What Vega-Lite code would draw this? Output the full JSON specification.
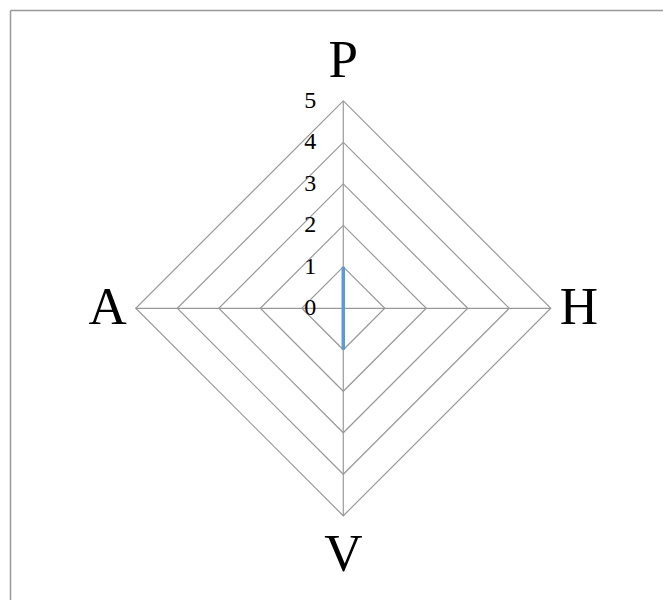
{
  "$schema": "https://vega.github.io/schema/vega-lite/v6.json",
  "width": 653,
  "height": 590,
  "autosize": {"type": "none"},
  "padding": {"left": 10, "top": 10, "right": 0, "bottom": 0},
  "background": "white",
  "config": {"view": {"stroke": null}},
  "datasets": {
    "grid": [
      {"level": 1, "i": 0, "x": 0, "y": 1}, {"level": 1, "i": 1, "x": 1, "y": 0}, {"level": 1, "i": 2, "x": 0, "y": -1}, {"level": 1, "i": 3, "x": -1, "y": 0}, {"level": 1, "i": 4, "x": 0, "y": 1},
      {"level": 2, "i": 0, "x": 0, "y": 2}, {"level": 2, "i": 1, "x": 2, "y": 0}, {"level": 2, "i": 2, "x": 0, "y": -2}, {"level": 2, "i": 3, "x": -2, "y": 0}, {"level": 2, "i": 4, "x": 0, "y": 2},
      {"level": 3, "i": 0, "x": 0, "y": 3}, {"level": 3, "i": 1, "x": 3, "y": 0}, {"level": 3, "i": 2, "x": 0, "y": -3}, {"level": 3, "i": 3, "x": -3, "y": 0}, {"level": 3, "i": 4, "x": 0, "y": 3},
      {"level": 4, "i": 0, "x": 0, "y": 4}, {"level": 4, "i": 1, "x": 4, "y": 0}, {"level": 4, "i": 2, "x": 0, "y": -4}, {"level": 4, "i": 3, "x": -4, "y": 0}, {"level": 4, "i": 4, "x": 0, "y": 4},
      {"level": 5, "i": 0, "x": 0, "y": 5}, {"level": 5, "i": 1, "x": 5, "y": 0}, {"level": 5, "i": 2, "x": 0, "y": -5}, {"level": 5, "i": 3, "x": -5, "y": 0}, {"level": 5, "i": 4, "x": 0, "y": 5}
    ],
    "spokes": [
      {"axis": "P", "x": 0, "y": 5, "x2": 0, "y2": 0},
      {"axis": "H", "x": 5, "y": 0, "x2": 0, "y2": 0},
      {"axis": "V", "x": 0, "y": -5, "x2": 0, "y2": 0},
      {"axis": "A", "x": -5, "y": 0, "x2": 0, "y2": 0}
    ],
    "series": [
      {"axis": "P", "value": 1, "i": 0, "x": 0, "y": 1},
      {"axis": "H", "value": 0, "i": 1, "x": 0, "y": 0},
      {"axis": "V", "value": 1, "i": 2, "x": 0, "y": -1},
      {"axis": "A", "value": 0, "i": 3, "x": 0, "y": 0},
      {"axis": "P", "value": 1, "i": 4, "x": 0, "y": 1}
    ],
    "ticks": [
      {"label": "0", "x": 0, "y": 0},
      {"label": "1", "x": 0, "y": 1},
      {"label": "2", "x": 0, "y": 2},
      {"label": "3", "x": 0, "y": 3},
      {"label": "4", "x": 0, "y": 4},
      {"label": "5", "x": 0, "y": 5}
    ],
    "labels": [
      {"label": "P", "x": 0, "y": 5.95},
      {"label": "H", "x": 5.68, "y": 0},
      {"label": "V", "x": 0, "y": -5.95},
      {"label": "A", "x": -5.68, "y": 0}
    ]
  },
  "encoding": {
    "x": {
      "field": "x", "type": "quantitative",
      "scale": {"domain": [-8.031, 7.704], "nice": false, "zero": false},
      "axis": {"orient": "top", "domain": true, "domainColor": "#999999", "domainWidth": 1.5, "ticks": false, "labels": false, "grid": false, "title": null}
    },
    "y": {
      "field": "y", "type": "quantitative",
      "scale": {"domain": [-7.029, 7.188], "nice": false, "zero": false},
      "axis": {"orient": "left", "domain": true, "domainColor": "#999999", "domainWidth": 1.5, "ticks": false, "labels": false, "grid": false, "title": null}
    }
  },
  "layer": [
    {
      "data": {"name": "grid"},
      "mark": {"type": "line", "color": "#999999", "strokeWidth": 1.2},
      "encoding": {"detail": {"field": "level", "type": "nominal"}, "order": {"field": "i", "type": "quantitative"}}
    },
    {
      "data": {"name": "spokes"},
      "mark": {"type": "rule", "color": "#999999", "strokeWidth": 1.2},
      "encoding": {"x2": {"field": "x2"}, "y2": {"field": "y2"}}
    },
    {
      "data": {"name": "series"},
      "mark": {"type": "line", "color": "#5b9bd5", "strokeWidth": 3.5},
      "encoding": {"order": {"field": "i", "type": "quantitative"}}
    },
    {
      "data": {"name": "ticks"},
      "mark": {"type": "text", "align": "right", "baseline": "middle", "dx": -27, "font": "Liberation Serif", "fontSize": 24, "color": "black"},
      "encoding": {"text": {"field": "label"}}
    },
    {
      "data": {"name": "labels"},
      "mark": {"type": "text", "align": "center", "baseline": "middle", "font": "Liberation Serif", "fontSize": 53, "color": "black"},
      "encoding": {"text": {"field": "label"}}
    }
  ]
}
